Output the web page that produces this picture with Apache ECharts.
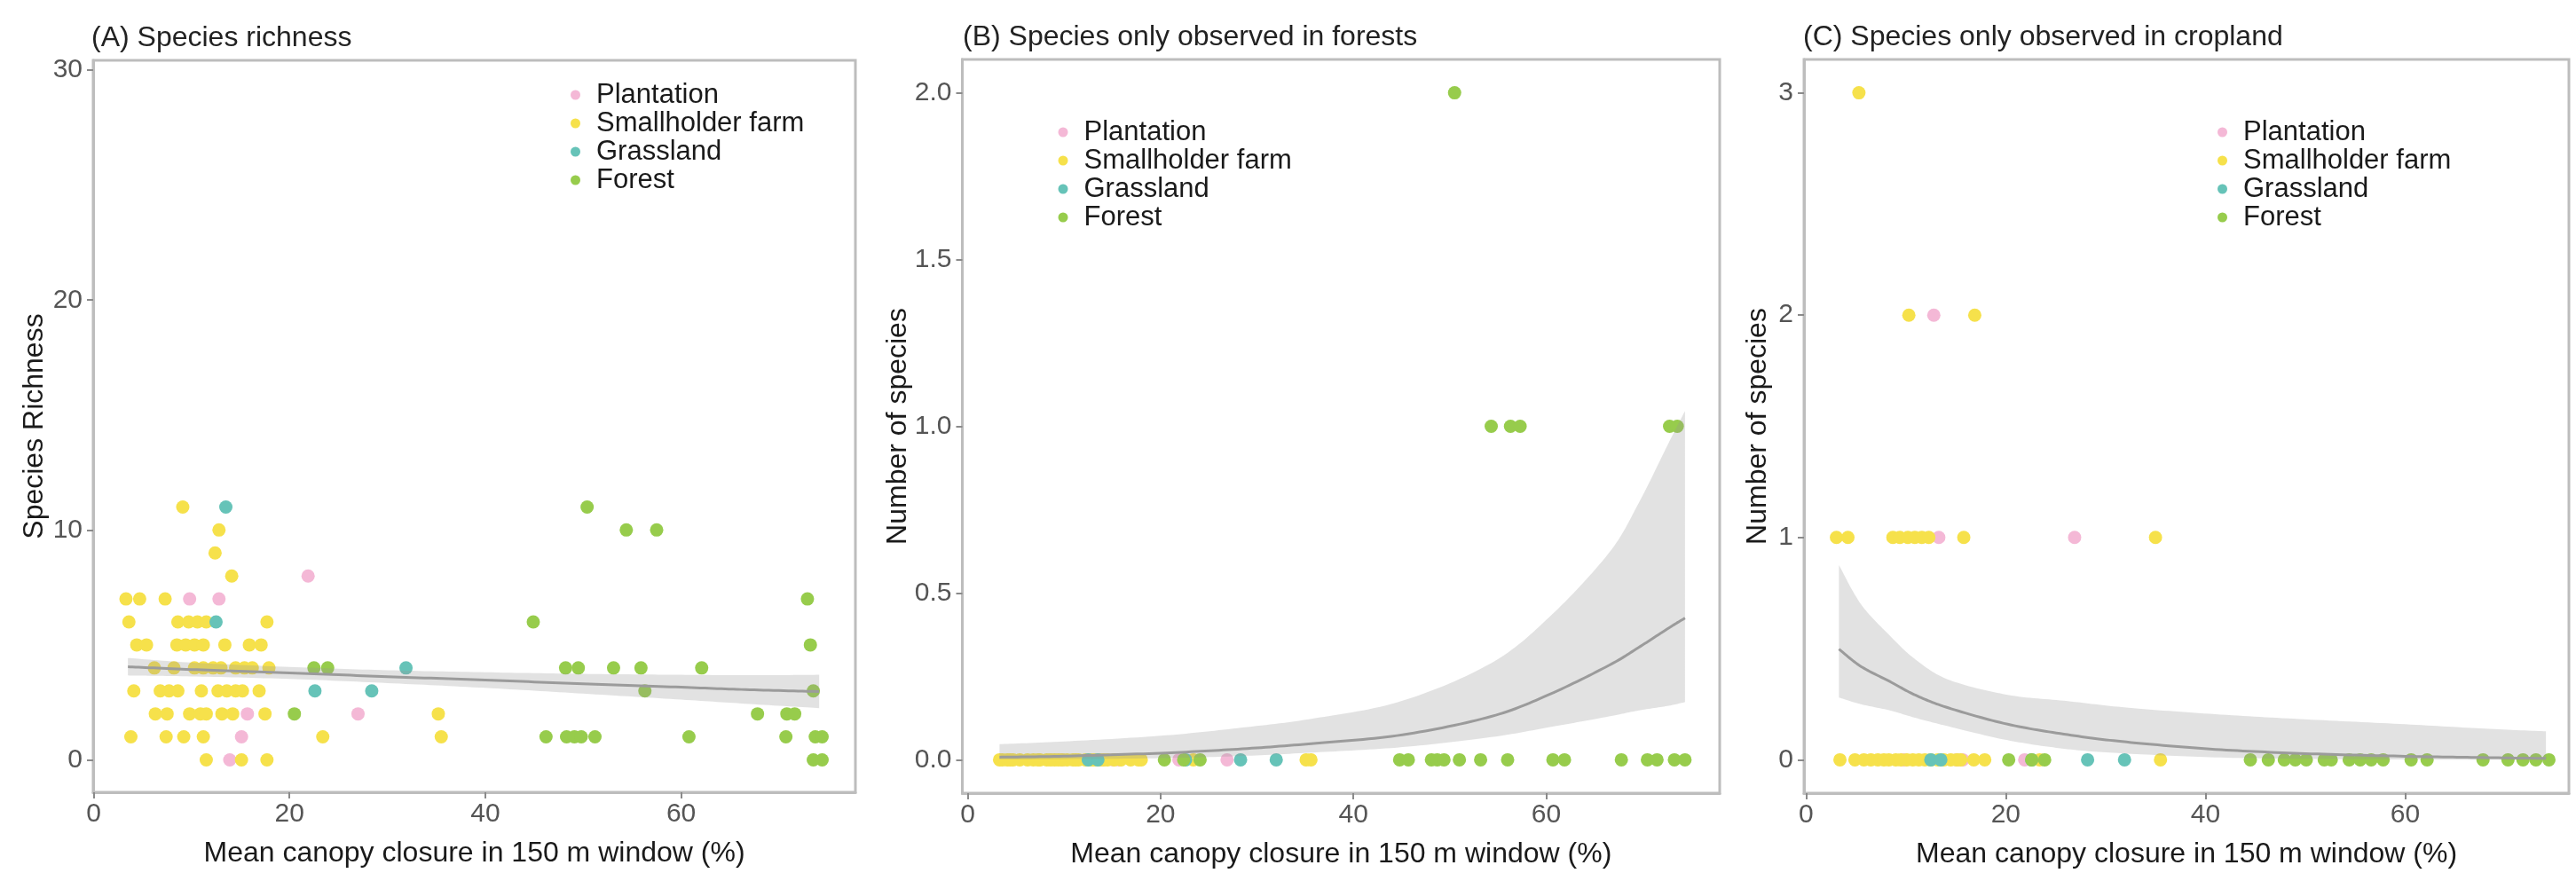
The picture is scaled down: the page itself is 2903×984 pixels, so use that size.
<!DOCTYPE html>
<html><head><meta charset="utf-8">
<script src="https://cdn.jsdelivr.net/npm/echarts@6/dist/echarts.min.js"></script>
<style>html,body{margin:0;padding:0;background:#fff}#c{width:2903px;height:984px}</style>
</head><body><div id="c"></div>
<script>
// ---------- categories / labels ----------
const landUses = ['Plantation', 'Smallholder farm', 'Grassland', 'Forest'];
const panelTitles = ['(A) Species richness', '(B) Species only observed in forests', '(C) Species only observed in cropland'];
const yTitles = ['Species Richness', 'Number of species', 'Number of species'];
const xTitle = 'Mean canopy closure in 150 m window (%)';
const xTicks = [0, 20, 40, 60];
const yTicksA = [0, 10, 20, 30];
const yTicksB = [0, 0.5, 1, 1.5, 2];
const yTicksC = [0, 1, 2, 3];

// ---------- Panel A: species richness ----------
const A_plantation = [[9.8,7],[12.8,7],[21.9,8],[15.7,2],[27.0,2],[15.1,1],[13.9,0]];
const A_smallholder = [
  [9.1,11],[12.8,10],[12.4,9],[14.1,8],
  [3.3,7],[4.7,7],[7.3,7],
  [3.6,6],[8.6,6],[9.7,6],[10.6,6],[11.5,6],[17.7,6],
  [4.4,5],[5.4,5],[8.5,5],[9.4,5],[10.3,5],[11.2,5],[13.4,5],[15.9,5],[17.1,5],
  [6.2,4],[8.2,4],[10.3,4],[11.2,4],[12.2,4],[13.0,4],[14.5,4],[15.4,4],[16.2,4],[17.9,4],
  [4.1,3],[6.8,3],[7.7,3],[8.6,3],[11.0,3],[12.7,3],[13.6,3],[14.5,3],[15.2,3],[16.9,3],
  [6.3,2],[7.5,2],[9.8,2],[10.9,2],[11.5,2],[13.1,2],[14.2,2],[17.5,2],[35.2,2],
  [3.8,1],[7.4,1],[9.2,1],[11.2,1],[23.4,1],[35.5,1],
  [11.5,0],[15.1,0],[17.7,0]
];
const A_grassland = [[13.5,11],[12.5,6],[31.9,4],[22.6,3],[28.4,3]];
const A_forest = [
  [50.4,11],[54.4,10],[57.5,10],[72.9,7],[44.9,6],[73.2,5],
  [22.5,4],[23.9,4],[48.2,4],[49.5,4],[53.1,4],[55.9,4],[62.1,4],
  [56.3,3],[73.5,3],
  [20.5,2],[67.8,2],[70.8,2],[71.6,2],
  [46.2,1],[48.3,1],[49.1,1],[49.8,1],[51.2,1],[60.8,1],[70.7,1],[73.7,1],[74.4,1],
  [73.5,0],[74.4,0]
];
const A_fitX  = [3.5, 10, 20, 30, 40, 50, 60, 67, 74.1];
const A_fit   = [4.05, 3.93, 3.78, 3.62, 3.47, 3.31, 3.16, 3.05, 2.97];
const A_upper = [4.43, 4.23, 4.04, 3.90, 3.81, 3.74, 3.70, 3.68, 3.70];
const A_lower = [3.67, 3.63, 3.52, 3.34, 3.13, 2.88, 2.62, 2.43, 2.25];

// ---------- Panel B: species only in forests ----------
const B_plantation = [[9.8,0],[12.8,0],[13.9,0],[15.1,0],[15.7,0],[21.9,0],[26.9,0]];
const B_smallholder = [
  [3.3,0],[3.6,0],[4.1,0],[4.4,0],[4.7,0],[5.4,0],[6.2,0],[6.8,0],[7.3,0],[7.5,0],
  [8.2,0],[8.6,0],[9.0,0],[9.4,0],[9.8,0],[10.3,0],[10.9,0],[11.2,0],[11.5,0],[12.2,0],
  [12.4,0],[12.8,0],[13.1,0],[13.4,0],[13.7,0],[14.1,0],[14.5,0],[15.2,0],[15.9,0],[16.9,0],
  [17.7,0],[18.0,0],[23.4,0],[35.1,0],[35.6,0]
];
const B_grassland = [[12.5,0],[13.5,0],[22.6,0],[28.3,0],[32.0,0]];
const B_forest = [
  [50.5,2],
  [54.3,1],[56.3,1],[57.3,1],[72.8,1],[73.6,1],
  [20.4,0],[22.4,0],[24.1,0],[44.8,0],[45.7,0],[48.1,0],[48.7,0],[49.4,0],[51.0,0],
  [53.2,0],[56.0,0],[60.7,0],[61.9,0],[67.8,0],[70.5,0],[71.5,0],[73.3,0],[74.4,0]
];
const B_fitX  = [3.3, 10, 20, 28, 35.9, 45.1, 54.3, 60.4, 66.5, 69.6, 72.7, 74.4];
const B_fit   = [0.008, 0.011, 0.02, 0.032, 0.049, 0.075, 0.13, 0.197, 0.283, 0.337, 0.395, 0.425];
const B_upper = [0.047, 0.055, 0.072, 0.095, 0.124, 0.177, 0.29, 0.43, 0.62, 0.77, 0.95, 1.046];
const B_lower = [0.001, 0.002, 0.005, 0.011, 0.022, 0.038, 0.068, 0.098, 0.13, 0.148, 0.162, 0.173];

// ---------- Panel C: species only in cropland ----------
const C_plantation = [[12.8,2],[13.3,1],[26.9,1],[9.8,0],[15.1,0],[15.7,0],[21.9,0]];
const C_smallholder = [
  [5.3,3],
  [10.3,2],[16.9,2],
  [3.05,1],[4.2,1],[8.7,1],[9.4,1],[10.2,1],[10.9,1],[11.6,1],[12.3,1],[15.8,1],[35.0,1],
  [3.4,0],[4.9,0],[5.8,0],[6.5,0],[7.2,0],[7.8,0],[8.3,0],[9.0,0],[9.5,0],[10.1,0],[10.7,0],
  [11.3,0],[11.9,0],[12.5,0],[13.2,0],[13.8,0],[14.5,0],[15.1,0],[15.5,0],[16.8,0],[17.9,0],
  [23.4,0],[35.5,0]
];
const C_grassland = [[12.5,0],[13.5,0],[22.6,0],[28.2,0],[31.9,0]];
const C_forest = [
  [20.3,0],[22.6,0],[23.9,0],[44.5,0],[46.3,0],[47.9,0],[49.0,0],[50.1,0],[51.9,0],[52.6,0],
  [54.4,0],[55.5,0],[56.6,0],[57.8,0],[60.6,0],[62.2,0],[67.8,0],[70.3,0],[71.8,0],[73.1,0],[74.4,0]
];
const C_fitX  = [3.3, 5.5, 8.4, 11, 14.3, 20.2, 26.2, 32.1, 41.0, 50, 60, 68, 74.1];
const C_fit   = [0.498, 0.42, 0.352, 0.29, 0.233, 0.16, 0.113, 0.08, 0.047, 0.028, 0.016, 0.010, 0.0065];
const C_upper = [0.876, 0.70, 0.558, 0.45, 0.36, 0.292, 0.264, 0.235, 0.205, 0.182, 0.16, 0.14, 0.128];
const C_lower = [0.28, 0.25, 0.222, 0.188, 0.15, 0.088, 0.048, 0.028, 0.011, 0.0045, 0.0016, 0.0007, 0.0003];

// ---------- styling ----------
const FONT = "'Liberation Sans', Arial, Helvetica, sans-serif";
const COLORS = ['#F4B8D6', '#F6E14B', '#66C3B8', '#97CC4C'];
const BORDER = '#bdbdbd';

const panels = [
  { grid: {left:105, top:68, width:859, height:825}, xr:[-0.05,77.8], yr:[-1.41,30.43], yTicks:yTicksA, dec:0,
    pts:[A_plantation, A_smallholder, A_grassland, A_forest], fx:A_fitX, fy:A_fit, up:A_upper, lo:A_lower,
    legend:{left:643, top:91}, title:{left:103, top:26}, yGap:50 },
  { grid: {left:1084.5, top:67, width:853.5, height:827}, xr:[-0.56,78.0], yr:[-0.1,2.1], yTicks:yTicksB, dec:1,
    pts:[B_plantation, B_smallholder, B_grassland, B_forest], fx:B_fitX, fy:B_fit, up:B_upper, lo:B_lower,
    legend:{left:1192.5, top:133}, title:{left:1085, top:25}, yGap:56 },
  { grid: {left:2033, top:67, width:862, height:827}, xr:[-0.2,76.4], yr:[-0.15,3.15], yTicks:yTicksC, dec:0,
    pts:[C_plantation, C_smallholder, C_grassland, C_forest], fx:C_fitX, fy:C_fit, up:C_upper, lo:C_lower,
    legend:{left:2499, top:133}, title:{left:2032, top:25}, yGap:36 }
];

// Catmull-Rom sampling of pixel points (rendering only: smooths the outline through the read points)
function smoothPixels(p) {
  const out = [];
  const n = p.length;
  for (let i = 0; i < n - 1; i++) {
    const p0 = p[Math.max(i - 1, 0)], p1 = p[i], p2 = p[i + 1], p3 = p[Math.min(i + 2, n - 1)];
    const c1 = [p1[0] + (p2[0] - p0[0]) / 6, p1[1] + (p2[1] - p0[1]) / 6];
    const c2 = [p2[0] - (p3[0] - p1[0]) / 6, p2[1] - (p3[1] - p1[1]) / 6];
    const steps = 16;
    for (let s = 0; s < steps; s++) {
      const t = s / steps, u = 1 - t;
      out.push([
        u*u*u*p1[0] + 3*u*u*t*c1[0] + 3*u*t*t*c2[0] + t*t*t*p2[0],
        u*u*u*p1[1] + 3*u*u*t*c1[1] + 3*u*t*t*c2[1] + t*t*t*p2[1]
      ]);
    }
  }
  out.push(p[n - 1]);
  return out;
}

const option = {
  backgroundColor: '#ffffff',
  animation: false,
  textStyle: { fontFamily: FONT },
  title: [], grid: [], xAxis: [], yAxis: [], legend: [], series: []
};

panels.forEach((p, i) => {
  option.title.push({
    text: panelTitles[i], left: p.title.left, top: p.title.top, padding: 0,
    textStyle: { fontSize: 32, fontWeight: 'normal', color: '#222', fontFamily: FONT, lineHeight: 34 }
  });
  option.grid.push(Object.assign({
    show: true, borderColor: BORDER, borderWidth: 3, backgroundColor: '#fff',
    containLabel: false, outerBoundsMode: 'none'
  }, p.grid));
  option.xAxis.push({
    type: 'value', gridIndex: i, min: p.xr[0], max: p.xr[1],
    name: xTitle, nameLocation: 'middle', nameGap: 53, nameMoveOverlap: false,
    nameTextStyle: { fontSize: 32, color: '#1a1a1a', fontFamily: FONT },
    axisLine: { show: true, onZero: false, lineStyle: { color: BORDER, width: 3 } },
    axisTick: { show: true, length: 7, lineStyle: { color: '#8a8a8a', width: 2 }, customValues: xTicks },
    axisLabel: { fontSize: 30, color: '#555', margin: 10, fontFamily: FONT, customValues: xTicks },
    splitLine: { show: false }
  });
  option.yAxis.push({
    type: 'value', gridIndex: i, min: p.yr[0], max: p.yr[1],
    name: yTitles[i], nameLocation: 'middle', nameGap: p.yGap, nameRotate: 90, nameMoveOverlap: false,
    nameTextStyle: { fontSize: 32, color: '#1a1a1a', fontFamily: FONT },
    axisLine: { show: true, onZero: false, lineStyle: { color: BORDER, width: 3 } },
    axisTick: { show: true, length: 7, lineStyle: { color: '#8a8a8a', width: 2 }, customValues: p.yTicks },
    axisLabel: { fontSize: 30, color: '#555', margin: 12, fontFamily: FONT, customValues: p.yTicks,
                 formatter: v => Number(v).toFixed(p.dec) },
    splitLine: { show: false }
  });
  option.legend.push({
    data: landUses, left: p.legend.left, top: p.legend.top, orient: 'vertical',
    padding: 0, itemGap: 0, itemWidth: 37, itemHeight: 11, icon: 'circle',
    textStyle: { fontSize: 31, color: '#1a1a1a', fontFamily: FONT, lineHeight: 32 },
    selectedMode: false
  });
  landUses.forEach((name, k) => {
    option.series.push({
      type: 'scatter', name: name, xAxisIndex: i, yAxisIndex: i,
      data: p.pts[k], symbol: 'circle', symbolSize: 15, z: 2,
      itemStyle: { color: COLORS[k], opacity: 1 }
    });
  });
  const fx = p.fx, up = p.up, lo = p.lo, fy = p.fy;
  // confidence ribbon
  option.series.push({
    type: 'custom', xAxisIndex: i, yAxisIndex: i, z: 3, silent: true,
    data: [[fx[0], lo[0]]],
    renderItem: function (params, api) {
      const top = smoothPixels(fx.map((x, j) => api.coord([x, up[j]])));
      const bot = smoothPixels(fx.map((x, j) => api.coord([x, lo[j]]))).reverse();
      return { type: 'polygon', shape: { points: top.concat(bot) },
               style: { fill: 'rgba(150,150,150,0.28)', stroke: null } };
    }
  });
  // fitted line
  option.series.push({
    type: 'custom', xAxisIndex: i, yAxisIndex: i, z: 4, silent: true,
    data: [[fx[0], fy[0]]],
    renderItem: function (params, api) {
      const pts = smoothPixels(fx.map((x, j) => api.coord([x, fy[j]])));
      return { type: 'polyline', shape: { points: pts },
               style: { stroke: '#9b9b9b', lineWidth: 3, fill: null } };
    }
  });
});

const chart = echarts.init(document.getElementById('c'), null, { renderer: 'canvas' });
chart.setOption(option);
</script></body></html>
